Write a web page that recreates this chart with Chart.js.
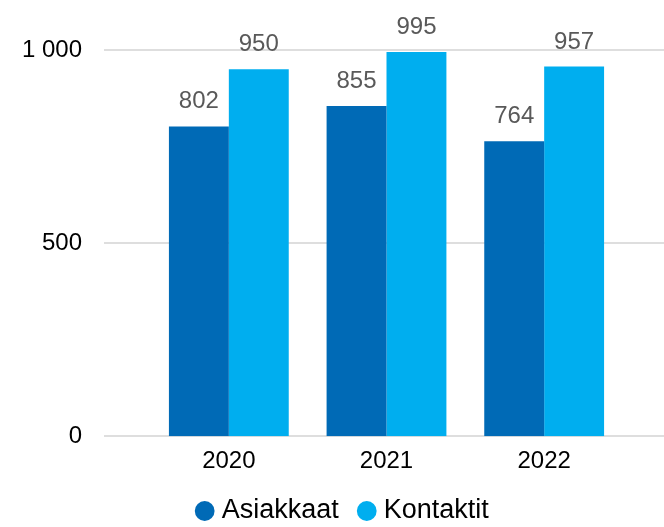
<!DOCTYPE html>
<html>
<head>
<meta charset="utf-8">
<script src="https://cdn.jsdelivr.net/npm/chart.js@4"></script>
<style>
  html, body { margin: 0; padding: 0; background: #fff; }
</style>
</head>
<body>
<canvas id="chart" width="664" height="527"></canvas>
<script>
const years = ['2020', '2021', '2022'];
const asiakkaat = [802, 855, 764];
const kontaktit = [950, 995, 957];
const yTicks = [0, 500, 1000];

const darkBlue = '#006AB6';
const lightBlue = '#00AEEF';
const fontFamily = '"Liberation Sans", Arial, sans-serif';

function formatNumber(v) {
  return String(v).replace(/\B(?=(\d{3})+(?!\d))/g, ' ');
}

// horizontal grid lines run wider than the plot area, like in the original
const wideGrid = {
  id: 'wideGrid',
  beforeDatasetsDraw(chart) {
    const ctx = chart.ctx;
    const y = chart.scales.y;
    ctx.save();
    ctx.strokeStyle = '#DEDEDE';
    ctx.lineWidth = 2;
    y.ticks.forEach((t) => {
      const py = Math.round(y.getPixelForValue(t.value));
      ctx.beginPath();
      ctx.moveTo(chart.chartArea.left - 46, py);
      ctx.lineTo(chart.width, py);
      ctx.stroke();
    });
    ctx.restore();
  },
};

// value labels above the bars
const valueLabels = {
  id: 'valueLabels',
  afterDatasetsDraw(chart) {
    const ctx = chart.ctx;
    ctx.save();
    ctx.font = '24px ' + fontFamily;
    ctx.fillStyle = '#595959';
    ctx.textAlign = 'center';
    ctx.textBaseline = 'alphabetic';
    chart.data.datasets.forEach((ds, i) => {
      chart.getDatasetMeta(i).data.forEach((bar, j) => {
        ctx.fillText(formatNumber(ds.data[j]), bar.x, bar.y - 18);
      });
    });
    ctx.restore();
  },
};

// put the legend where the original has it (legend clips to its box)
const legendShift = {
  id: 'legendShift',
  afterLayout(chart) {
    const lg = chart.legend;
    lg.left += 22.5;
    lg.right += 22.5;
    lg.top = chart.height - 54;
    lg.bottom = chart.height;
  },
};

new Chart(document.getElementById('chart'), {
  type: 'bar',
  data: {
    labels: years,
    datasets: [
      {
        label: 'Asiakkaat',
        data: asiakkaat,
        backgroundColor: darkBlue,
        borderWidth: 0,
      },
      {
        label: 'Kontaktit',
        data: kontaktit,
        backgroundColor: lightBlue,
        borderWidth: 0,
      },
    ],
  },
  options: {
    responsive: false,
    animation: false,
    categoryPercentage: 0.76,
    barPercentage: 1,
    layout: {
      padding: { left: 22, right: 41, top: 50, bottom: 0 },
    },
    plugins: {
      tooltip: { enabled: false },
      legend: {
        position: 'bottom',
        maxHeight: 40,
        labels: {
          usePointStyle: true,
          pointStyle: 'circle',
          boxWidth: 7,
          boxHeight: 14,
          padding: 24.5,
          color: '#000',
          font: { family: fontFamily, size: 27 },
        },
      },
    },
    scales: {
      x: {
        grid: { display: false, drawTicks: false },
        border: { display: false },
        ticks: {
          color: '#000',
          padding: 11,
          font: { family: fontFamily, size: 24 },
        },
        afterFit: (scale) => {
          scale.paddingLeft = 0;
          scale.paddingRight = 0;
        },
      },
      y: {
        min: 0,
        max: 1000,
        grid: { display: false, drawTicks: false },
        border: { display: false },
        afterBuildTicks: (axis) => {
          axis.ticks = yTicks.map((v) => ({ value: v }));
        },
        ticks: {
          color: '#000',
          padding: 68,
          font: { family: fontFamily, size: 24 },
          callback: (v) => formatNumber(v),
        },
        afterFit: (scale) => {
          scale.width = 128;
          scale.paddingTop = 0;
          scale.paddingBottom = 0;
        },
      },
    },
  },
  plugins: [wideGrid, valueLabels, legendShift],
});
</script>
</body>
</html>
